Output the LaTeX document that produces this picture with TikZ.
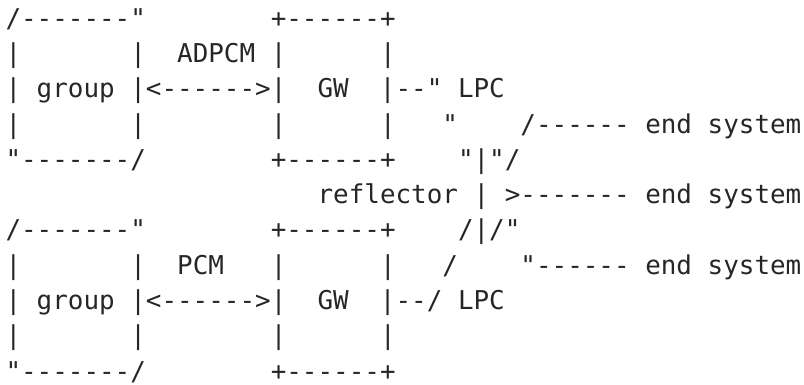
\documentclass[tikz,border=0pt]{standalone}
\usepackage{fontspec}
\setmonofont{DejaVu Sans Mono}
\begin{document}
\begin{tikzpicture}[node distance=17.625pt,art row/.style={rectangle,inner sep=0pt,text width=400pt,align=left,text height=10pt,text depth=3pt,font=\ttfamily\fontsize{12.96}{17.6}\selectfont,text=black!85,execute at begin node={\spaceskip=0.60205em\xspaceskip=0.60205em\relax}}]
  \useasboundingbox (0,0) rectangle (402pt,-192.5pt);
  \node[art row] (1) at (202.75pt,-10.25pt) {/-------"~~~~~~~~+------+};
  \node[art row] (2) [below of=1] {|~~~~~~~|~~ADPCM~|~~~~~~|};
  \node[art row] (3) [below of=2] {|~group~|<------>|~~GW~~|--"~LPC};
  \node[art row] (4) [below of=3] {|~~~~~~~|~~~~~~~~|~~~~~~|~~~"~~~~/------~end~system};
  \node[art row] (5) [below of=4] {"-------/~~~~~~~~+------+~~~~"|"/};
  \node[art row] (6) [below of=5] {~~~~~~~~~~~~~~~~~~~~reflector~|~>-------~end~system};
  \node[art row] (7) [below of=6] {/-------"~~~~~~~~+------+~~~~/|/"};
  \node[art row] (8) [below of=7] {|~~~~~~~|~~PCM~~~|~~~~~~|~~~/~~~~"------~end~system};
  \node[art row] (9) [below of=8] {|~group~|<------>|~~GW~~|--/~LPC};
  \node[art row] (10) [below of=9] {|~~~~~~~|~~~~~~~~|~~~~~~|};
  \node[art row] (11) [below of=10] {"-------/~~~~~~~~+------+};
\end{tikzpicture}
\end{document}
